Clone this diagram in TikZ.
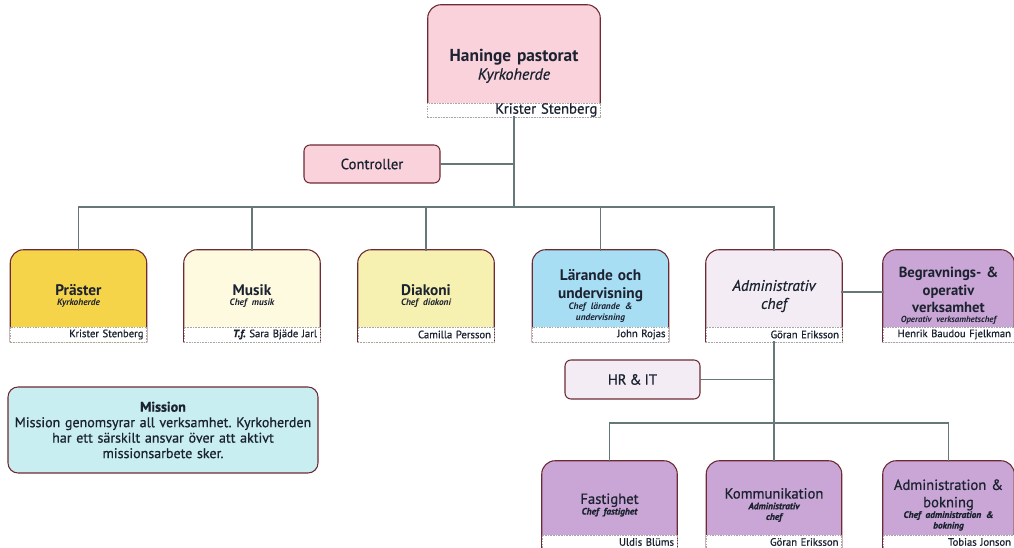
\documentclass[tikz,border=0pt]{standalone}
\usepackage{fontspec}
\setmainfont{PT Sans}[WordSpace=0.8]
\newfontfamily\medfont{PT Sans}[FakeBold=0.7, WordSpace=0.8]
\usetikzlibrary{backgrounds}
\frenchspacing

\definecolor{boxred}{HTML}{6E2A33}
\definecolor{linegray}{HTML}{66777A}
\definecolor{inkblue}{HTML}{1B2230}
\definecolor{pastpink}{HTML}{F9D2DB}
\definecolor{prastyellow}{HTML}{F6D44A}
\definecolor{musikcream}{HTML}{FDFAE0}
\definecolor{diakyellow}{HTML}{F6F1B0}
\definecolor{larblue}{HTML}{A8DEF4}
\definecolor{admlilac}{HTML}{F4ECF4}
\definecolor{purplebox}{HTML}{C9A6D5}
\definecolor{missioncyan}{HTML}{C9EEF1}

\newcommand{\headfont}{\fontsize{11.5}{13.5}\selectfont\bfseries}
\newcommand{\rolefont}{\fontsize{7}{8}\selectfont\bfseries\itshape}
\newcommand{\namefont}{\medfont\fontsize{8}{9}\selectfont}

\tikzset{
  unit/.style={inner sep=2pt, align=center, text=inkblue, font=\headfont},
  outline/.style={draw=boxred, line width=0.8pt, rounded corners=10pt},
  namestrip/.style={draw=gray!70, dash pattern=on 1.2pt off 0.8pt, fill=white, inner xsep=2.4pt, inner ysep=0pt,
    minimum height=11.25pt, align=right, anchor=south, text=inkblue, font=\namefont},
  staff/.style={draw=boxred, line width=0.8pt, rounded corners=4.5pt, fill=#1, minimum width=102pt,
    minimum height=28.5pt, text=inkblue, font=\medfont\fontsize{11}{12}\selectfont},
  conn/.style={draw=linegray, line width=1.3pt, line cap=rect}
}

\begin{document}
\begin{tikzpicture}[x=0.75pt, y=-0.75pt]
\useasboundingbox (0,0) rectangle (1014,548);

% top
\node[unit, minimum width=129pt, minimum height=84pt, text width=125pt, font=\fontsize{13}{15}\selectfont\bfseries] (past) at (514,61)
  {\rule{0pt}{17pt}Haninge pastorat\par{\medfont\mdseries\itshape\fontsize{12}{13.5}\selectfont Kyrkoherde\par}};
\node[namestrip, text width=125pt, minimum height=10.5pt, font=\medfont\fontsize{11}{11}\selectfont] (pastn) at (past.south) {Krister Stenberg};
\node[staff=pastpink] (ctrl) at (372,164) {Controller};

% first row
\node[unit, minimum width=102pt, minimum height=69pt, text width=98pt] (prast) at (78.5,296)
  {Präster\par{\rolefont Kyrkoherde\par}};
\node[unit, minimum width=102pt, minimum height=69pt, text width=98pt] (musik) at (252,296)
  {Musik\par{\rolefont Chef musik\par}};
\node[unit, minimum width=102pt, minimum height=69pt, text width=98pt] (diak) at (426,296)
  {Diakoni\par{\rolefont Chef diakoni\par}};
\node[unit, minimum width=102pt, minimum height=69pt, text width=98pt] (lar) at (600.5,296)
  {Lärande och\\undervisning\par{\rolefont Chef lärande \&\\undervisning\par}};
\node[unit, minimum width=102pt, minimum height=69pt, text width=98pt, font=\medfont\fontsize{11.5}{13.5}\selectfont\itshape] (adm) at (774,296)
  {Administrativ\\chef};
\node[unit, minimum width=98.25pt, minimum height=69pt, text width=94pt, font=\fontsize{11}{13}\selectfont\bfseries] (begr) at (948.5,296)
  {Begravnings- \&\\operativ\\verksamhet\par{\rolefont\fontsize{6.6}{7.5}\selectfont Operativ verksamhetschef\par}};

\node[namestrip, text width=97.5pt] (prastn) at (prast.south) {Krister Stenberg};
\node[namestrip, text width=97.5pt] (musikn) at (musik.south) {\textbf{\textit{T.f.}} Sara Bjäde Jarl};
\node[namestrip, text width=97.5pt] (diakn) at (diak.south) {Camilla Persson};
\node[namestrip, text width=97.5pt] (larn) at (lar.south) {John Rojas};
\node[namestrip, text width=97.5pt] (admn) at (adm.south) {Göran Eriksson};
\node[namestrip, text width=93.75pt] (begrn) at (begr.south) {Henrik Baudou Fjelkman};

\node[staff=admlilac, minimum width=101.25pt, minimum height=29.25pt] (hrit) at (632.5,379.5) {HR \& IT};

% lower row
\node[unit, minimum width=101.25pt, minimum height=66pt, text width=97pt, font=\medfont\fontsize{11}{13}\selectfont] (fast) at (609.5,505)
  {Fastighet\par{\rolefont Chef fastighet\par}};
\node[unit, minimum width=101.25pt, minimum height=66pt, text width=97pt, font=\medfont\fontsize{11}{13}\selectfont] (komm) at (774,505)
  {Kommunikation\par{\rolefont Administrativ\\chef\par}};
\node[unit, minimum width=98.25pt, minimum height=66pt, text width=94pt, font=\medfont\fontsize{11}{13}\selectfont] (admb) at (948.5,505)
  {Administration \&\\bokning\par{\rolefont Chef administration \&\\bokning\par}};

\node[namestrip, text width=96.75pt, minimum height=10.5pt] (fastn) at (fast.south) {Uldis Blüms};
\node[namestrip, text width=96.75pt, minimum height=10.5pt] (kommn) at (komm.south) {Göran Eriksson};
\node[namestrip, text width=93.75pt, minimum height=10.5pt] (admbn) at (admb.south) {Tobias Jonson};

% mission
\node[draw=boxred, line width=0.8pt, rounded corners=7.5pt, fill=missioncyan, minimum width=232.5pt, minimum height=64.5pt,
  inner xsep=2pt, text width=228pt, align=center, text=inkblue, font=\medfont\fontsize{10.5}{11.6}\selectfont] (miss) at (163,430)
  {{\bfseries\fontsize{10.5}{11.6}\selectfont Mission\par}
   Mission genomsyrar all verksamhet. Kyrkoherden\\har ett särskilt ansvar över att aktivt\\missionsarbete sker.};

% box outlines
\begin{scope}[on background layer]
  \foreach \n/\c in {past/pastpink, prast/prastyellow, musik/musikcream, diak/diakyellow, lar/larblue,
      adm/admlilac, begr/purplebox, fast/purplebox, komm/purplebox, admb/purplebox}
    \filldraw[outline, fill=\c] (\n.south west) -- (\n.north west) -- (\n.north east) -- (\n.south east);
\end{scope}

% connectors
\coordinate (bus) at (0,207);
\coordinate (lowbus) at (0,423);
\draw[conn] (pastn.south) -- (pastn.south |- bus);
\draw[conn] (ctrl.east) -- (ctrl.east -| pastn.south);
\draw[conn] (prast.north |- bus) -- (adm.north |- bus);
\foreach \n in {prast,musik,diak,lar,adm}
  \draw[conn] (\n.north) -- (\n.north |- bus);
\draw[conn] (adm.east |- 0,292) -- (begr.west |- 0,292);
\draw[conn] (admn.south) -- (admn.south |- lowbus);
\draw[conn] (hrit.east) -- (hrit.east -| admn.south);
\draw[conn] (fast.north |- lowbus) -- (admb.north |- lowbus);
\foreach \n in {fast,komm,admb}
  \draw[conn] (\n.north) -- (\n.north |- lowbus);
\end{tikzpicture}
\end{document}
